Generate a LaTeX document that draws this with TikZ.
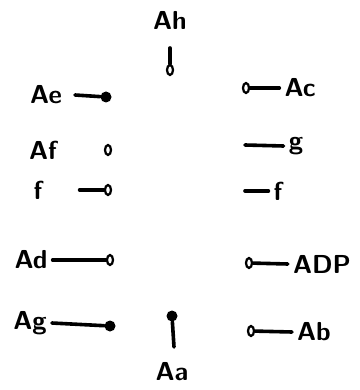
\documentclass[tikz,border=0pt]{standalone}
\usepackage{tikz}

\tikzset{
  lbl/.style={font=\sffamily\bfseries\fontsize{26}{28}\selectfont, inner sep=5pt},
  blob/.style={fill=black, circle, inner sep=0pt, minimum size=11pt},
  ring/.style={draw, line width=2.2pt, ellipse, inner sep=0pt, minimum width=6pt, minimum height=10pt},
  stroke/.style={line width=3.6pt, line cap=round}
}
\usetikzlibrary{shapes.geometric}

\begin{document}
\begin{tikzpicture}[x=1pt, y=-1pt]
  \useasboundingbox (0,0) rectangle (359,390);

  % top and bottom
  \node[lbl] (ah) at (170,20) {Ah};
  \coordinate (ahTop) at (170,48);
  \node[ring] (ahEnd) at (170,70) {};
  \draw[stroke] (ahTop) -- (ahEnd);

  \node[blob] (aaDot) at (172,316) {};
  \coordinate (aaEnd) at (174,347);
  \draw[stroke] (aaDot) -- (aaEnd);
  \node[lbl] (aa) at (172,372) {Aa};

  % left column
  \node[lbl] (ae) at (46,95) {Ae};
  \node[blob] (aeDot) at (106,97) {};
  \draw[stroke] (ae.east) ++(8,0) -- (aeDot);

  \node[lbl] (af) at (43,150) {Af};
  \node[ring] (afDot) at (108,150) {};

  \node[lbl] (fl) at (38,190) {f};
  \node[ring] (flDot) at (108,190) {};
  \draw[stroke] (fl.east) ++(32,0) -- (flDot);

  \node[lbl] (ad) at (31,260) {Ad};
  \node[ring] (adDot) at (110,260) {};
  \draw[stroke] (ad.east) -- (adDot);

  \node[lbl] (ag) at (30,323) {Ag};
  \node[blob] (agDot) at (110,326) {};
  \draw[stroke] (ag.east) -- (agDot);

  % right column
  \node[ring] (acDot) at (246,88) {};
  \node[lbl] (ac) at (300,88) {Ac};
  \draw[stroke] (acDot) -- (ac.west);

  \coordinate (gEnd) at (245,145);
  \node[lbl] (g) at (296,146) {g};
  \draw[stroke] (gEnd) -- (g.west);

  \coordinate (frEnd) at (245,191);
  \node[lbl] (fr) at (278,191) {f};
  \draw[stroke] (frEnd) -- (fr.west);

  \node[ring] (adpDot) at (249,263) {};
  \node[lbl] (adp) at (322,264) {ADP};
  \draw[stroke] (adpDot) -- (adp.west);

  \node[ring] (abDot) at (251,331) {};
  \node[lbl] (ab) at (314,332) {Ab};
  \draw[stroke] (abDot) -- (ab.west);
\end{tikzpicture}
\end{document}
